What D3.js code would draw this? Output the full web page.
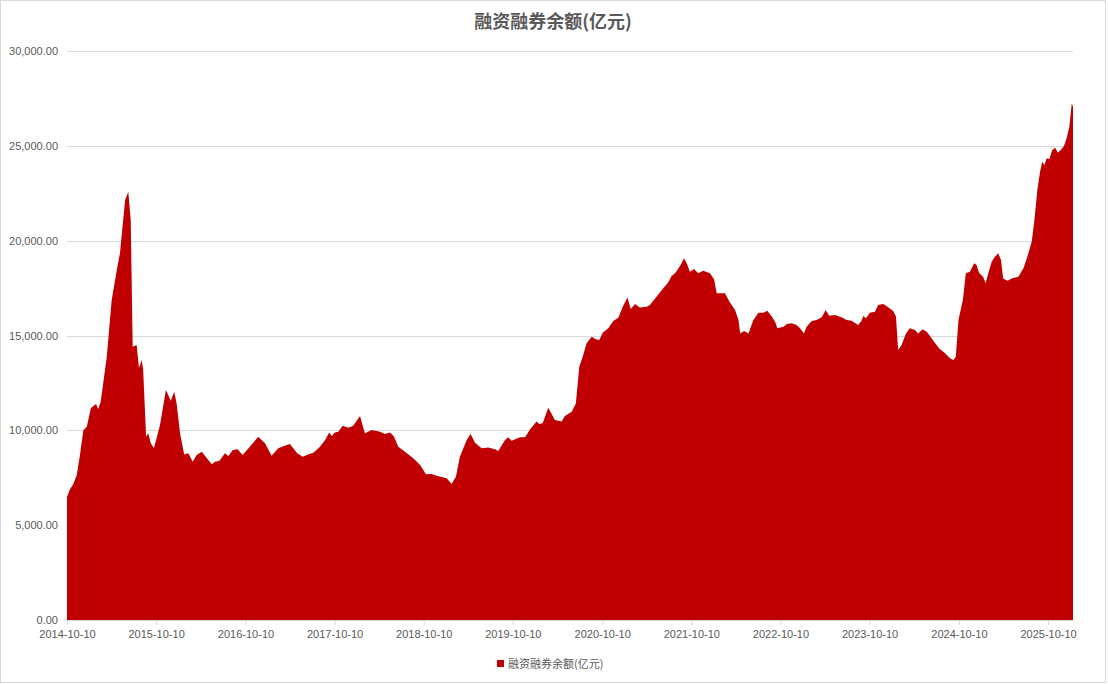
<!DOCTYPE html>
<html><head><meta charset="utf-8">
<script src="https://cdn.jsdelivr.net/npm/d3@7"></script>
<style>html,body{margin:0;padding:0;background:#fff;}svg{display:block;}</style>
</head><body>
<svg id="chart" width="1108" height="684"></svg>
<script>
const title = "融资融券余额(亿元)";
const seriesName = "融资融券余额(亿元)";
const dates = [
"2014-10-10","2014-10-22","2014-11-04","2014-11-19","2014-12-02","2014-12-16","2014-12-30","2015-01-16","2015-02-06","2015-02-15",
"2015-02-25","2015-03-22","2015-04-11","2015-05-02","2015-05-15","2015-06-05","2015-06-18","2015-06-28","2015-07-06","2015-07-22",
"2015-08-01","2015-08-12","2015-08-18","2015-08-30","2015-09-08","2015-09-18","2015-10-01","2015-10-12","2015-10-26","2015-11-19",
"2015-12-09","2015-12-23","2016-01-02","2016-01-16","2016-02-02","2016-02-19","2016-03-08","2016-03-24","2016-04-14","2016-04-30",
"2016-05-25","2016-06-07","2016-06-25","2016-07-18","2016-08-01","2016-08-19","2016-09-08","2016-09-28","2016-10-28","2016-12-01",
"2016-12-29","2017-01-25","2017-02-21","2017-03-28","2017-04-10","2017-05-10","2017-06-01","2017-06-28","2017-07-15","2017-08-11",
"2017-09-01","2017-09-18","2017-09-28","2017-10-11","2017-10-25","2017-11-12","2017-12-05","2017-12-25","2018-01-22","2018-02-11",
"2018-03-11","2018-04-14","2018-05-04","2018-05-25","2018-06-10","2018-06-28","2018-07-25","2018-08-28","2018-09-25","2018-10-19",
"2018-11-11","2018-12-02","2019-01-12","2019-02-01","2019-02-19","2019-03-07","2019-04-04","2019-04-20","2019-05-08","2019-06-04",
"2019-07-01","2019-07-29","2019-08-11","2019-09-08","2019-09-21","2019-10-05","2019-11-08","2019-11-29","2019-12-19","2020-01-15",
"2020-01-26","2020-02-09","2020-03-03","2020-03-30","2020-04-27","2020-05-10","2020-06-07","2020-06-24","2020-07-08","2020-07-22",
"2020-08-07","2020-08-28","2020-09-14","2020-09-28","2020-10-12","2020-11-04","2020-11-24","2020-12-15","2021-01-02","2021-01-21",
"2021-02-04","2021-02-21","2021-03-13","2021-04-10","2021-04-23","2021-05-21","2021-06-17","2021-07-07","2021-07-21","2021-08-04",
"2021-08-14","2021-08-31","2021-09-10","2021-09-21","2021-10-04","2021-10-21","2021-11-07","2021-11-28","2021-12-25","2022-01-11",
"2022-01-22","2022-02-25","2022-03-15","2022-04-07","2022-04-21","2022-04-28","2022-05-14","2022-06-01","2022-06-21","2022-07-12",
"2022-08-01","2022-08-17","2022-09-04","2022-09-18","2022-09-27","2022-10-22","2022-11-05","2022-11-25","2022-12-15","2022-12-29",
"2023-01-14","2023-01-25","2023-02-15","2023-03-07","2023-03-28","2023-04-13","2023-04-28","2023-05-21","2023-06-17","2023-07-08",
"2023-07-28","2023-08-24","2023-09-07","2023-09-14","2023-09-25","2023-10-11","2023-11-01","2023-11-14","2023-12-05","2023-12-25",
"2024-01-15","2024-01-26","2024-02-04","2024-02-18","2024-03-07","2024-03-23","2024-04-13","2024-04-26","2024-05-14","2024-05-31",
"2024-06-13","2024-06-30","2024-07-21","2024-08-14","2024-09-03","2024-09-17","2024-09-27","2024-10-08","2024-10-26","2024-11-07",
"2024-11-24","2024-12-11","2024-12-21","2025-01-01","2025-01-17","2025-01-27","2025-02-07","2025-02-21","2025-03-06","2025-03-20",
"2025-03-31","2025-04-09","2025-04-27","2025-05-14","2025-06-10","2025-07-01","2025-07-17","2025-08-04","2025-08-15","2025-08-27",
"2025-09-07","2025-09-16","2025-09-25","2025-10-04","2025-10-15","2025-10-27","2025-11-08","2025-11-19","2025-12-01","2025-12-14",
"2025-12-25","2026-01-05","2026-01-15","2026-01-20"
];
const balance = [
6480,6900,7150,7640,8700,10000,10190,11180,11390,11120,
11510,13880,16870,18450,19350,22140,22580,21090,14410,14500,
13290,13710,13180,9660,9840,9320,9070,9600,10280,12130,
11560,12040,11420,9840,8730,8790,8350,8700,8870,8610,
8210,8350,8400,8790,8650,8960,9000,8700,9140,9660,
9320,8660,9050,9230,9280,8790,8610,8750,8820,9140,
9490,9880,9700,9890,9930,10240,10140,10240,10750,9840,
10020,9930,9810,9890,9670,9140,8870,8530,8170,7680,
7700,7610,7470,7170,7560,8610,9490,9810,9350,9050,
9100,9000,8910,9490,9630,9450,9630,9630,10050,10460,
10330,10370,11190,10540,10460,10750,10980,11420,13350,13880,
14590,14940,14800,14760,15150,15380,15760,15940,16520,17010,
16400,16660,16470,16520,16610,17050,17490,17800,18140,18280,
18450,18810,19070,18810,18360,18500,18280,18420,18280,17960,
17230,17230,16780,16340,15820,15110,15240,15110,15820,16200,
16200,16310,16000,15730,15380,15460,15610,15640,15550,15380,
15110,15460,15760,15820,15960,16340,16040,16080,15960,15820,
15780,15550,15780,16030,15910,16200,16250,16610,16660,16490,
16290,16000,14230,14500,15110,15380,15290,15110,15330,15200,
14970,14670,14320,14060,13800,13710,13880,15820,16870,18280,
18360,18810,18720,18280,18100,17750,18280,18890,19150,19330,
18980,18010,17890,18010,18100,18540,19150,19940,21090,22670,
23630,24160,23990,24340,24290,24780,24900,24640,24780,24990,
25400,26010,27240,27060
];
const xTickLabels = ["2014-10-10","2015-10-10","2016-10-10","2017-10-10","2018-10-10","2019-10-10","2020-10-10","2021-10-10","2022-10-10","2023-10-10","2024-10-10","2025-10-10"];
const yTicks = [0,5000,10000,15000,20000,25000,30000];

const parse = d3.timeParse("%Y-%m-%d");
const data = dates.map((d,i)=>({date:parse(d), v:balance[i]}));

const svg = d3.select("#chart");
const W = 1108, H = 684;
const m = {left:67, right:1073, top:51, bottom:620};
const textColor = "#595959";
const font = "'Liberation Sans', Arial, sans-serif";
const cjk = "'Noto Sans CJK SC', 'Liberation Sans', sans-serif";

svg.append("rect").attr("x",0.5).attr("y",0.5).attr("width",W-3).attr("height",H-2)
  .attr("fill","#fff").attr("stroke","#d9d9d9").attr("stroke-width",1);

const x = d3.scaleTime().domain([data[0].date, data[data.length-1].date]).range([m.left, m.right]);
const y = d3.scaleLinear().domain([0,30000]).range([m.bottom, m.top]);

// gridlines
svg.append("g").selectAll("line").data(yTicks.filter(t=>t>0)).join("line")
  .attr("x1",m.left).attr("x2",m.right)
  .attr("y1",d=>Math.round(y(d))+0.5).attr("y2",d=>Math.round(y(d))+0.5)
  .attr("stroke","#d9d9d9").attr("stroke-width",1);

// area
const area = d3.area().x(d=>x(d.date)).y0(y(0)).y1(d=>y(d.v)).curve(d3.curveLinear);
svg.append("path").datum(data).attr("d",area).attr("fill","#C00000");

// y axis
const yAxis = d3.axisLeft(y).tickValues(yTicks).tickFormat(d3.format(",.2f")).tickSize(0).tickPadding(9);
const gy = svg.append("g").attr("transform",`translate(${m.left},0)`).call(yAxis);
gy.select(".domain").remove();
gy.selectAll("text").attr("fill",textColor).style("font-family",font).style("font-size","11px");

// x axis
const xTickDates = xTickLabels.map(parse);
const xAxis = d3.axisBottom(x).tickValues(xTickDates).tickFormat(d3.timeFormat("%Y-%m-%d")).tickSize(5).tickPadding(5);
const gx = svg.append("g").attr("transform",`translate(0,${m.bottom})`).call(xAxis);
gx.select(".domain").attr("stroke","#d9d9d9").attr("d",`M${m.left},0.5H${m.right}`);
gx.selectAll(".tick line").attr("stroke","#d9d9d9");
gx.selectAll("text").attr("fill",textColor).style("font-family",font).style("font-size","11px");

// title
svg.append("text").attr("x",553).attr("y",28).attr("text-anchor","middle")
  .attr("fill",textColor).style("font-family",cjk).style("font-size","18px").style("font-weight","bold")
  .text(title);

// legend
const lg = svg.append("g");
lg.append("rect").attr("x",497).attr("y",660).attr("width",7).attr("height",7).attr("fill","#C00000");
lg.append("text").attr("x",508).attr("y",668).attr("fill",textColor)
  .style("font-family",cjk).style("font-size","11px").text(seriesName);
</script>
</body></html>
